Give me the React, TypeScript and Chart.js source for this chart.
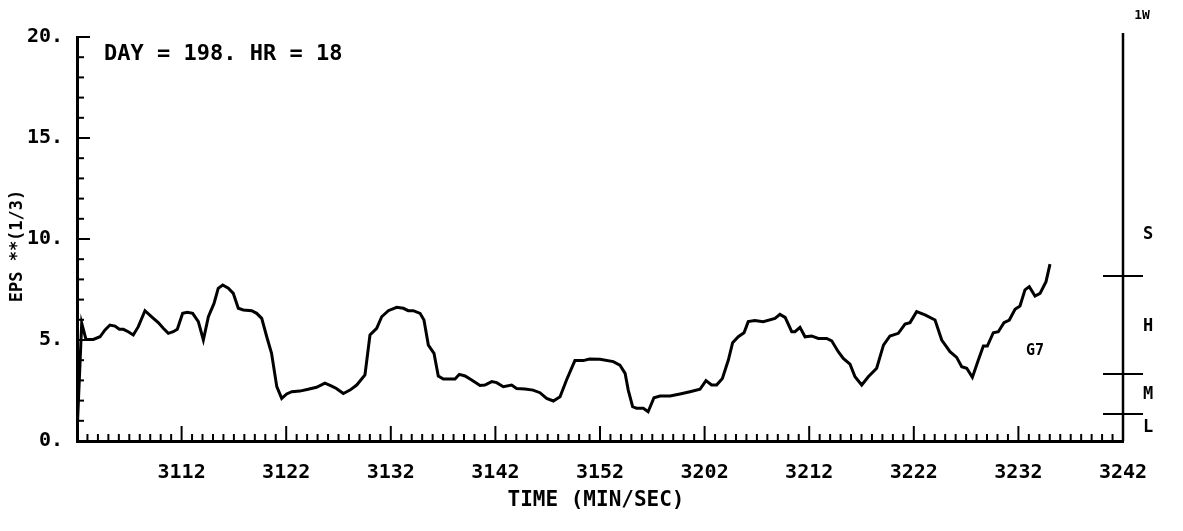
import { useEffect, useRef } from 'react';
import { Chart, registerables } from 'chart.js';

Chart.register(...registerables);

// Seconds elapsed since 31:02 (MIN/SEC)
const times = [
  0, 0.45, 0.86, 1.56, 2.2, 2.68, 3.15, 3.63, 4.05, 4.43, 4.9, 5.38, 5.86, 6.5, 7.14, 7.77, 8.25, 8.73, 9.2, 9.59,
  10.1, 10.55, 11.06, 11.6, 12.08, 12.56, 13.1, 13.5, 13.93, 14.47, 14.94, 15.42, 15.9, 16.7, 17.18, 17.66, 18.14, 18.6, 19.1, 19.57,
  20.05, 20.53, 21.3, 22.1, 22.9, 23.7, 24.35, 24.8, 25.46, 26.1, 26.74, 27.53, 28.01, 28.65, 29.13, 29.76,
  30.56, 31.2, 31.67, 32.15, 32.8, 33.17, 33.59, 34.13, 34.54, 35.02, 36.14, 36.55, 37.1, 37.73, 38.53, 39.0, 39.65,
  40.12, 40.76, 41.55, 42.03, 42.83, 43.6, 44.26, 44.9, 45.54, 46.18, 46.8, 47.6, 48.4, 49.0,
  50.0, 51.27, 51.9, 52.4, 52.7, 53.12, 53.5, 54.14, 54.6, 55.16, 55.74, 56.7, 57.65, 58.6, 59.56,
  60.13, 60.67, 61.15, 61.7, 62.27, 62.68, 63.22, 63.77, 64.17, 64.8, 65.6, 66.73, 67.2, 67.7, 68.33, 68.64, 69.12, 69.6,
  70.23, 70.87, 71.67, 72.15, 72.78, 73.26, 73.9, 74.38, 75.02, 75.65, 76.45, 77.1, 77.72, 78.52, 79.16, 79.64,
  80.27, 81.07, 82.03, 82.67, 83.46, 84.1, 84.58, 85.06, 85.6, 86.17, 86.65, 87.03, 87.6, 88.08, 88.62, 89.13, 89.68,
  90.15, 90.63, 91.04, 91.59, 92.07, 92.64, 93.02,
];

const eps = [
  0.3, 5.83, 5.03, 5.03, 5.16, 5.5, 5.74, 5.69, 5.53, 5.53, 5.41, 5.25, 5.66, 6.45, 6.15, 5.86, 5.58, 5.33, 5.41, 5.53,
  6.32, 6.37, 6.32, 5.91, 5.0, 6.15, 6.81, 7.56, 7.72, 7.56, 7.31, 6.57, 6.49, 6.45, 6.32, 6.07, 5.16, 4.34, 2.69, 2.11,
  2.33, 2.44, 2.47, 2.56, 2.66, 2.86, 2.72, 2.6, 2.35, 2.52, 2.77, 3.27, 5.25, 5.58, 6.15, 6.45,
  6.62, 6.57, 6.45, 6.45, 6.32, 5.99, 4.75, 4.34, 3.22, 3.07, 3.07, 3.3, 3.22, 3.02, 2.75, 2.77, 2.94,
  2.89, 2.69, 2.77, 2.6, 2.57, 2.52, 2.39, 2.11, 1.98, 2.19, 3.02, 3.98, 3.98, 4.06,
  4.05, 3.93, 3.76, 3.35, 2.52, 1.7, 1.62, 1.62, 1.45, 2.14, 2.23, 2.23, 2.33, 2.44, 2.56,
  2.99, 2.77, 2.77, 3.1, 4.01, 4.87, 5.16, 5.36, 5.91, 5.96, 5.91, 6.07, 6.27, 6.12, 5.41, 5.41, 5.63, 5.16,
  5.2, 5.08, 5.08, 4.96, 4.42, 4.09, 3.8, 3.18, 2.77, 3.18, 3.6, 4.75, 5.2, 5.33, 5.79, 5.86,
  6.4, 6.24, 5.99, 5.0, 4.42, 4.14, 3.68, 3.6, 3.15, 4.01, 4.7, 4.7, 5.36, 5.41, 5.86, 5.99, 6.52,
  6.68, 7.48, 7.64, 7.18, 7.31, 7.89, 8.76,
];

const startMinute = 31;
const startSecond = 2;
const xMin = 0;
const xMax = 100;
const yMin = 0;
const yMax = 20;

const classBounds = [1.34, 3.32, 8.17];
const classLabels = ['L', 'M', 'H', 'S'];
const classLabelValues = [0.65, 2.3, 5.65, 10.2];
const classAxisTop = 20.2;
const classAxisName = '1W';

const infoText = 'DAY = 198. HR = 18';
const seriesTag = 'G7';
const xTitle = 'TIME (MIN/SEC)';
const yTitle = 'EPS **(1/3)';

const MONO = '"DejaVu Sans Mono", "Liberation Mono", monospace';

function fmtTime(v: number): string {
  const total = startMinute * 60 + startSecond + v;
  const m = Math.floor(total / 60);
  const s = Math.round(total - m * 60);
  return `${m}${String(s).padStart(2, '0')}`;
}

const decorPlugin = {
  id: 'decor',
  afterDraw(chart: any) {
    const ctx = chart.ctx as CanvasRenderingContext2D;
    const xs = chart.scales.x;
    const ys = chart.scales.y;
    const area = chart.chartArea;
    ctx.save();
    ctx.strokeStyle = '#000';
    ctx.fillStyle = '#000';
    ctx.lineCap = 'butt';

    // x ticks pointing up
    ctx.lineWidth = 2;
    xs.ticks.forEach((t: any) => {
      const v = t.value;
      if (v <= xMin) return;
      const px = xs.getPixelForValue(v);
      const len = Math.round(v) % 10 === 0 ? 15 : 7;
      ctx.beginPath();
      ctx.moveTo(px, area.bottom);
      ctx.lineTo(px, area.bottom - len);
      ctx.stroke();
    });
    // y ticks pointing right
    ys.ticks.forEach((t: any) => {
      const v = t.value;
      if (v <= yMin) return;
      const py = ys.getPixelForValue(v);
      const len = Math.round(v) % 5 === 0 ? 13 : 7;
      ctx.beginPath();
      ctx.moveTo(area.left, py);
      ctx.lineTo(area.left + len, py);
      ctx.stroke();
    });

    // class axis on the right
    const rx = xs.getPixelForValue(xMax);
    ctx.lineWidth = 2.5;
    ctx.beginPath();
    ctx.moveTo(rx, ys.getPixelForValue(classAxisTop));
    ctx.lineTo(rx, ys.getPixelForValue(yMin));
    ctx.stroke();
    ctx.lineWidth = 2;
    classBounds.forEach((b) => {
      const py = ys.getPixelForValue(b);
      ctx.beginPath();
      ctx.moveTo(rx - 20, py);
      ctx.lineTo(rx + 20, py);
      ctx.stroke();
    });
    ctx.textAlign = 'center';
    ctx.textBaseline = 'middle';
    ctx.font = `bold 17px ${MONO}`;
    classLabels.forEach((l, i) => {
      ctx.fillText(l, rx + 25, ys.getPixelForValue(classLabelValues[i]));
    });
    ctx.font = `bold 13px ${MONO}`;
    ctx.fillText(classAxisName, rx + 19, 16);

    // annotations
    ctx.textAlign = 'left';
    ctx.font = `bold 22px ${MONO}`;
    ctx.fillText(infoText, 104, 54);
    ctx.font = `bold 15px ${MONO}`;
    ctx.fillText(seriesTag, 1026, 351);

    // axis titles
    ctx.textAlign = 'center';
    ctx.font = `bold 21px ${MONO}`;
    ctx.fillText(xTitle, 596, 501);
    ctx.save();
    ctx.translate(18, 246);
    ctx.rotate(-Math.PI / 2);
    ctx.font = `bold 17px ${MONO}`;
    ctx.fillText(yTitle, 0, 0);
    ctx.restore();

    ctx.restore();
  },
};

export default function App() {
  const ref = useRef<HTMLCanvasElement | null>(null);
  useEffect(() => {
    const canvas = ref.current;
    if (!canvas) return;
    const points = times.map((t, i) => ({ x: t, y: eps[i] }));
    const chart = new Chart(canvas, {
      type: 'line',
      data: {
        datasets: [
          {
            data: points,
            borderColor: '#000',
            borderWidth: 3,
            pointRadius: 0,
            tension: 0,
            fill: false,
          },
        ],
      },
      options: {
        animation: false,
        responsive: false,
        devicePixelRatio: 1,
        events: [],
        layout: { padding: { top: 37, right: 60, left: 0, bottom: 0 } },
        plugins: { legend: { display: false }, tooltip: { enabled: false }, title: { display: false } },
        scales: {
          x: {
            type: 'linear',
            min: xMin,
            max: xMax,
            afterFit: (s: any) => {
              s.height = 90;
            },
            grid: { display: false, drawTicks: false },
            border: { display: true, color: '#000', width: 3 },
            ticks: {
              stepSize: 1,
              autoSkip: false,
              maxRotation: 0,
              padding: 20,
              color: '#000',
              font: { family: MONO, size: 20, weight: 'bold' },
              callback: (v: any) => {
                const n = Number(v);
                return Math.round(n) % 10 === 0 && n > xMin ? fmtTime(n) : '';
              },
            },
          },
          y: {
            type: 'linear',
            min: yMin,
            max: yMax,
            afterFit: (s: any) => {
              s.width = 77;
            },
            grid: { display: false, drawTicks: false },
            border: { display: true, color: '#000', width: 3 },
            ticks: {
              stepSize: 1,
              autoSkip: false,
              padding: 14,
              color: '#000',
              font: { family: MONO, size: 20, weight: 'bold' },
              callback: (v: any) => {
                const n = Number(v);
                return Math.round(n) % 5 === 0 ? `${n}.` : '';
              },
            },
          },
        },
      },
      plugins: [decorPlugin],
    });
    return () => chart.destroy();
  }, []);
  return (
    <div style={{ position: 'absolute', left: 0, top: 0, width: 1183, height: 531, background: '#fff' }}>
      <canvas ref={ref} width={1183} height={531} />
    </div>
  );
}
